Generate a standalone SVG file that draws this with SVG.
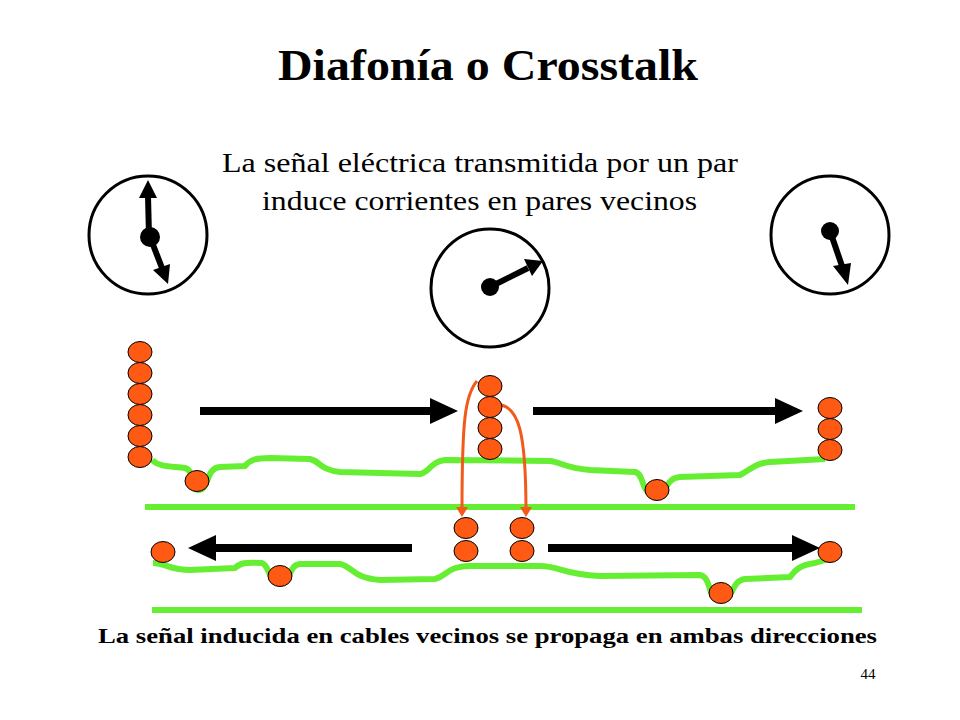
<svg xmlns="http://www.w3.org/2000/svg" width="960" height="720" viewBox="0 0 960 720">
<defs>
<style>
.b{fill:#ff5a14;stroke:#000;stroke-width:1}
.g{fill:none;stroke:#66ee33;stroke-width:6;stroke-linejoin:round}
.a{stroke:#000;stroke-width:8;fill:none}
.o{stroke:#f05a1a;stroke-width:3;fill:none}
.c{fill:#fff;stroke:#000;stroke-width:3}
.h{stroke:#000;stroke-width:6}
text{font-family:"Liberation Serif",serif;fill:#000}
</style>
<marker id="big" viewBox="0 0 10 10" refX="0" refY="5" markerWidth="28" markerHeight="26" orient="auto" markerUnits="userSpaceOnUse" preserveAspectRatio="none"><path d="M0,0L10,5L0,10z"/></marker>
<marker id="oh" viewBox="0 0 10 10" refX="5" refY="5" markerWidth="10" markerHeight="12" orient="auto" markerUnits="userSpaceOnUse" preserveAspectRatio="none"><path d="M0,0L10,5L0,10z" fill="#f05a1a"/></marker>
</defs>
<text x="278" y="80" font-size="44" font-weight="bold" textLength="420" lengthAdjust="spacingAndGlyphs">Diafonía o Crosstalk</text>
<text x="222" y="172" font-size="28" textLength="516" lengthAdjust="spacingAndGlyphs">La señal eléctrica transmitida por un par</text>
<text x="262" y="210" font-size="28" textLength="435" lengthAdjust="spacingAndGlyphs">induce corrientes en pares vecinos</text>
<g id="clock-left"><circle class="c" cx="148" cy="235" r="59"/><line class="h" x1="149" y1="236" x2="148" y2="196"/><path d="M139,198L148,180L157,198z"/><line class="h" x1="150" y1="237" x2="162" y2="268"/><path d="M153,270L168,284L170,264z"/><circle cx="150" cy="237" r="10"/></g>
<g id="clock-middle"><circle class="c" cx="490" cy="288" r="59"/><line class="h" x1="490" y1="287" x2="528" y2="268"/><path d="M524,259L543,261L532,276z"/><circle cx="490" cy="287" r="9"/></g>
<g id="clock-right"><circle class="c" cx="830" cy="235" r="59"/><line class="h" x1="830" y1="231" x2="842" y2="266"/><path d="M833,266L848,285L851,263z"/><circle cx="830" cy="231" r="9"/></g>
<g id="wires">
<line class="g" x1="145" y1="507" x2="855" y2="507"/>
<line class="g" x1="152" y1="610" x2="862" y2="610"/>
<path class="g" d="M152,460 C160,468 175,466 185,468 C196,471 188,490 198,490 C210,490 205,468 220,467 L245,466 C250,460 255,458 270,458 L310,459 C320,461 320,470 340,472 L420,474 C430,472 430,462 445,460 L550,461 C560,462 565,468 590,470 L635,472 C645,474 640,494 655,494 C668,494 665,478 680,477 L740,475 C750,470 755,463 770,462 L825,459"/>
<path class="g" d="M153,563 C165,563 170,570 190,570 L235,568 C240,563 245,562 262,563 C270,566 268,582 280,582 C292,582 288,565 300,564 L340,564 C352,566 352,578 380,580 L435,579 C448,576 445,567 470,566 L540,566 C560,566 560,574 600,576 L700,575 C712,577 707,600 720,600 C735,600 730,581 745,579 L790,577 C795,570 800,565 815,563 L835,557"/>
</g>
<g id="connectors">
<line class="a" x1="200" y1="411" x2="430" y2="411" marker-end="url(#big)"/>
<line class="a" x1="533" y1="411" x2="775" y2="411" marker-end="url(#big)"/>
<line class="a" x1="412" y1="548" x2="216" y2="548" marker-end="url(#big)"/>
<line class="a" x1="548" y1="548" x2="792" y2="548" marker-end="url(#big)"/>
<path class="o" d="M477,381 C465,395 462,420 462,512" marker-end="url(#oh)"/>
<path class="o" d="M502,405 C518,410 526,430 526,512" marker-end="url(#oh)"/>
</g>
<g id="charges">
<ellipse class="b" cx="140" cy="352" rx="12" ry="10.5"/><ellipse class="b" cx="140" cy="373" rx="12" ry="10.5"/><ellipse class="b" cx="140" cy="394" rx="12" ry="10.5"/><ellipse class="b" cx="140" cy="415" rx="12" ry="10.5"/><ellipse class="b" cx="140" cy="436" rx="12" ry="10.5"/><ellipse class="b" cx="140" cy="457" rx="12" ry="10.5"/>
<ellipse class="b" cx="197" cy="481" rx="12" ry="10.5"/>
<ellipse class="b" cx="490" cy="386" rx="12" ry="10.5"/><ellipse class="b" cx="490" cy="407" rx="12" ry="10.5"/><ellipse class="b" cx="490" cy="428" rx="12" ry="10.5"/><ellipse class="b" cx="490" cy="449" rx="12" ry="10.5"/>
<ellipse class="b" cx="830" cy="408" rx="12" ry="10.5"/><ellipse class="b" cx="830" cy="429" rx="12" ry="10.5"/><ellipse class="b" cx="830" cy="450" rx="12" ry="10.5"/>
<ellipse class="b" cx="657" cy="490" rx="12" ry="10.5"/>
<ellipse class="b" cx="163" cy="552" rx="12" ry="10.5"/>
<ellipse class="b" cx="466" cy="528" rx="12" ry="10.5"/><ellipse class="b" cx="466" cy="551" rx="12" ry="10.5"/>
<ellipse class="b" cx="522" cy="528" rx="12" ry="10.5"/><ellipse class="b" cx="522" cy="551" rx="12" ry="10.5"/>
<ellipse class="b" cx="830" cy="552" rx="12" ry="10.5"/>
<ellipse class="b" cx="280" cy="576" rx="12" ry="10.5"/>
<ellipse class="b" cx="721" cy="593" rx="12" ry="10.5"/>
</g>
<text x="98" y="643" font-size="21" font-weight="bold" textLength="779" lengthAdjust="spacingAndGlyphs">La señal inducida en cables vecinos se propaga en ambas direcciones</text>
<text x="868" y="679" font-size="15" text-anchor="middle">44</text>
</svg>
